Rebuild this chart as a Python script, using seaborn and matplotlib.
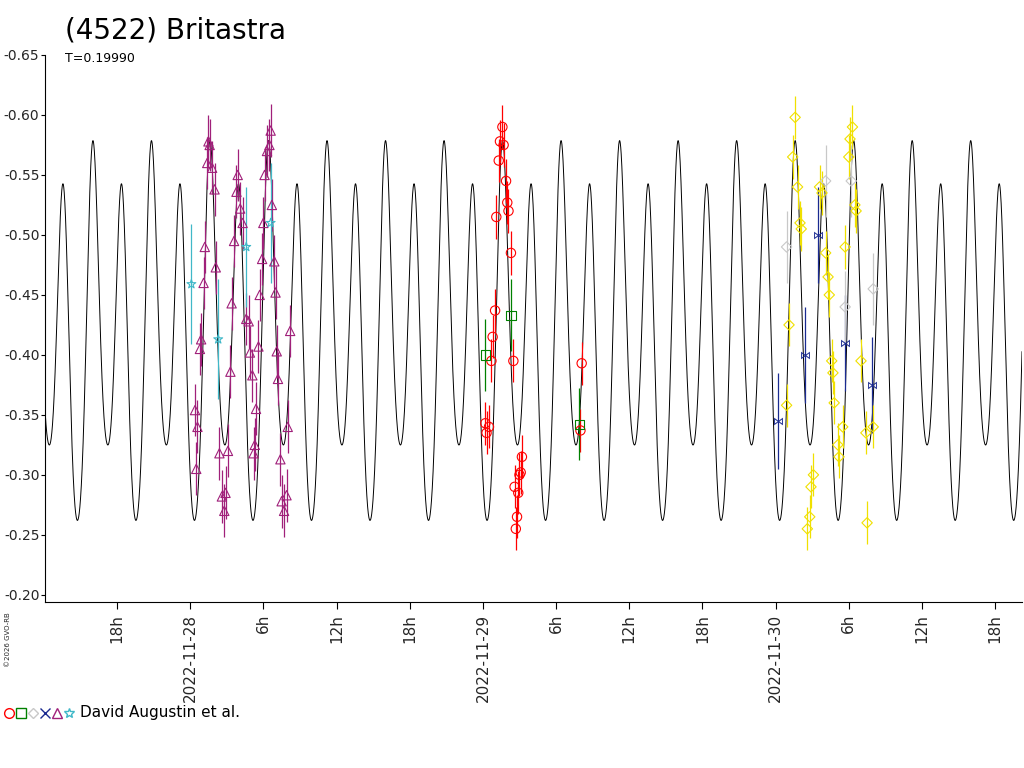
import numpy as np
import pandas as pd
import matplotlib
matplotlib.use("Agg")
import matplotlib.pyplot as plt
import seaborn as sns

# model lightcurve (Fourier fit) parameters
period_h = 0.19990 * 24
t0_h = -8.0
mean_mag = 0.412
a1, b1, a2, a4 = 0.018, 0.0315, 0.133, 0.015

# observations: hours since 2022-11-28 00:00, relative magnitude
mag_h = [0.4,0.5,0.6,0.8,0.9,1.1,1.2,1.4,1.5,1.6,1.8,2.0,2.1,2.4,2.6,2.8,2.9,3.1,3.3,3.4,3.6,3.8,3.9,4.1,4.3,4.6,4.8,4.9,5.1,5.4,5.6,5.2,5.3,5.7,5.9,6.0,6.1,6.3,6.5,6.6,6.7,6.9,7.0,7.1,7.2,7.4,7.5,7.7,7.9,8.0,8.2]
mag_v = [-0.354,-0.305,-0.340,-0.405,-0.413,-0.460,-0.490,-0.560,-0.578,-0.575,-0.556,-0.538,-0.473,-0.318,-0.282,-0.270,-0.285,-0.320,-0.386,-0.443,-0.495,-0.536,-0.550,-0.522,-0.510,-0.430,-0.428,-0.402,-0.383,-0.355,-0.407,-0.318,-0.325,-0.450,-0.480,-0.510,-0.550,-0.570,-0.575,-0.587,-0.525,-0.478,-0.452,-0.403,-0.380,-0.313,-0.278,-0.270,-0.283,-0.340,-0.420]
cya_h = [0.1,2.3,4.6,6.6]
cya_v = [-0.459,-0.413,-0.490,-0.510]
red_h = [24.2,24.3,24.5,24.7,24.8,25.0,25.1,25.3,25.4,25.6,25.7,25.9,26.0,26.1,26.3,26.5,26.6,26.7,26.8,26.9,27.0,27.1,27.2,32.1,32.0]
red_v = [-0.343,-0.335,-0.340,-0.395,-0.415,-0.437,-0.515,-0.562,-0.578,-0.590,-0.575,-0.545,-0.527,-0.520,-0.485,-0.395,-0.290,-0.255,-0.265,-0.285,-0.300,-0.302,-0.315,-0.393,-0.337]
grn_h = [24.2,26.3,31.9]
grn_v = [-0.400,-0.433,-0.342]
nav_h = [48.2,50.4,51.5,53.7,55.9]
nav_v = [-0.345,-0.400,-0.500,-0.410,-0.375]
yel_h = [48.9,49.1,49.4,49.6,49.8,50.0,50.1,50.6,50.8,50.9,51.1,51.6,51.8,52.1,52.3,52.4,52.6,52.7,52.8,53.1,53.2,53.5,53.7,54.0,54.1,54.3,54.5,54.6,55.0,55.4,55.5,56.0]
yel_v = [-0.358,-0.425,-0.565,-0.598,-0.540,-0.510,-0.505,-0.255,-0.265,-0.290,-0.300,-0.540,-0.535,-0.485,-0.465,-0.450,-0.395,-0.385,-0.360,-0.325,-0.315,-0.340,-0.490,-0.565,-0.580,-0.590,-0.525,-0.520,-0.395,-0.335,-0.260,-0.340]
gry_h = [48.9,52.1,54.2,53.7,56.0]
gry_v = [-0.490,-0.545,-0.545,-0.440,-0.455]

tick_h = [-6,0,6,12,18,24,30,36,42,48,54,60,66]
tick_lab = ["18h","2022-11-28","6h","12h","18h","2022-11-29","6h","12h","18h","2022-11-30","6h","12h","18h"]
ytick_v = [-0.65,-0.60,-0.55,-0.50,-0.45,-0.40,-0.35,-0.30,-0.25,-0.20]

sns.set_style("white")
plt.rcParams['font.family'] = ['DejaVu Sans']
plt.rcParams['axes.unicode_minus'] = False
fig = plt.figure(figsize=(10.24,7.68), dpi=100)
ax = fig.add_axes([45/1024, 1-602/768, 977/1024, 547/768])

t = np.linspace(-11.9, 68.2, 6000)
ph = 2*np.pi*(t - t0_h)/period_h
m = mean_mag + a1*np.cos(ph) + b1*np.sin(ph) + a2*np.cos(2*ph) + a4*np.cos(4*ph)
sns.lineplot(x=t, y=-m, ax=ax, color="black", lw=0.7)

groups = [
    (mag_h, mag_v, "#a0207a", "^", 0.022),
    (cya_h, cya_v, "#40b8c8", "*", 0.05),
    (red_h, red_v, "red", "o", 0.018),
    (grn_h, grn_v, "green", "s", 0.03),
    (nav_h, nav_v, "#1a2a90", r"$\bowtie$", 0.04),
    (yel_h, yel_v, "#f0e000", "D", 0.018),
    (gry_h, gry_v, "#c8c8c8", "D", 0.03),
]
for h, v, c, mk, e in groups:
    ax.errorbar(h, v, yerr=e, fmt="none", ecolor=c, elinewidth=0.9, zorder=3)
    df = pd.DataFrame({"h": h, "v": v})
    if mk.startswith("$"):
        sns.scatterplot(data=df, x="h", y="v", ax=ax, marker=mk, color=c, s=40, zorder=4, linewidth=0)
    else:
        sns.scatterplot(data=df, x="h", y="v", ax=ax, marker=mk, facecolor="none",
                        edgecolor=c, s=45 if mk != "D" else 28, linewidth=0.8, zorder=4)

ax.set_xlim(-11.9, 68.2)
ax.set_ylim(-0.194, -0.65)
ax.set_xticks(tick_h)
ax.set_xticklabels(tick_lab, rotation=90, fontsize=11)
ax.set_yticks(ytick_v)
ax.set_yticklabels([f"{y:.2f}" for y in ytick_v], fontsize=10)
ax.tick_params(axis="both", direction="out", length=5, color="black", left=True, bottom=True)
ax.tick_params(axis="y", length=3, pad=1)
ax.set_xlabel(""); ax.set_ylabel("")
for s in ["top", "right"]:
    ax.spines[s].set_visible(False)
for s in ["left", "bottom"]:
    ax.spines[s].set_color("black")

fig.text(65/1024, 1-30/768, "(4522) Britastra", fontsize=20, va="center", color="black")
fig.text(65/1024, 1-58/768, "T=0.19990", fontsize=9, va="center", color="black")
fig.text(5/1024, 1-640/768, "©2026 GVO-RB", fontsize=5, rotation=90, va="center")

lx = 9
for c, mk in [("red","o"),("green","s"),("#c8c8c8","D"),("#1a2a90","x"),("#a0207a","^"),("#40b8c8","*")]:
    fig.lines.append(plt.Line2D([lx/1024], [1-713/768], marker=mk, mfc="none", mec=c,
                                ms=7 if mk != "D" else 5, transform=fig.transFigure, ls="none"))
    lx += 12
fig.text(80/1024, 1-713/768, "David Augustin et al.", fontsize=11, va="center", color="black")

fig.savefig("out.png", dpi=100)
